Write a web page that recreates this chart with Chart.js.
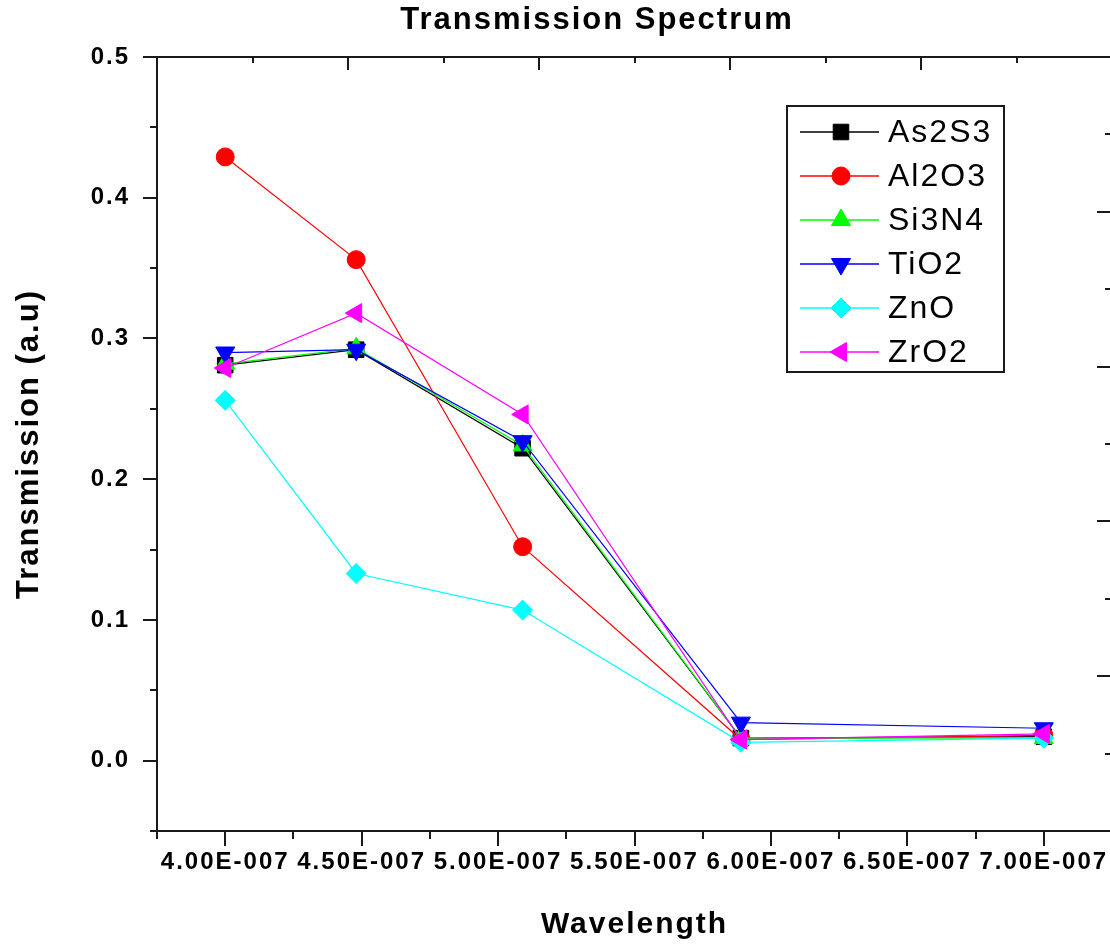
<!DOCTYPE html>
<html>
<head>
<meta charset="utf-8">
<title>Transmission Spectrum</title>
<script src="https://cdn.jsdelivr.net/npm/chart.js@4.4.1/dist/chart.umd.min.js"></script>
<style>
  html, body { margin: 0; padding: 0; background: #fff; overflow: hidden; }
  #spec { position: absolute; left: 0; top: 0; display: block; }
</style>
</head>
<body>
<canvas id="spec" width="1112" height="946"></canvas>
<script>
// wavelength (m) and transmission values
const wavelengths = [4.00e-7, 4.48e-7, 5.09e-7, 5.89e-7, 7.00e-7];
const as2s3 = [0.281, 0.292, 0.222, 0.016, 0.017];
const al2o3 = [0.429, 0.356, 0.152, 0.015, 0.018];
const si3n4 = [0.282, 0.293, 0.224, 0.016, 0.016];
const tio2  = [0.290, 0.292, 0.227, 0.027, 0.023];
const zno   = [0.256, 0.133, 0.107, 0.013, 0.016];
const zro2  = [0.279, 0.318, 0.246, 0.015, 0.019];

const seriesNames = ['As2S3', 'Al2O3', 'Si3N4', 'TiO2', 'ZnO', 'ZrO2'];
const seriesValues = [as2s3, al2o3, si3n4, tio2, zno, zro2];

const colors = ['#000000', '#ff0000', '#00ff00', '#0000ff', '#00ffff', '#ff00ff'];
const markers = ['rect', 'circle', 'triangle', 'triangle', 'rectRot', 'triangle'];
const markerRot = [0, 0, 0, 180, 0, 270];
const markerSize = [11, 9, 11, 11, 10, 11];

const FONT = '"Liberation Sans", Arial, sans-serif';
const AXIS = '#1a1a1a';

const datasets = seriesNames.map((name, i) => ({
  label: name,
  data: wavelengths.map((w, j) => ({ x: w, y: seriesValues[i][j] })),
  borderColor: colors[i],
  backgroundColor: colors[i],
  borderWidth: 1.2,
  pointStyle: markers[i],
  pointRotation: markerRot[i],
  pointRadius: markerSize[i],
  pointBackgroundColor: colors[i],
  pointBorderColor: colors[i],
  pointBorderWidth: 1,
  order: seriesNames.length - i   // later series on top, like the original
}));

// spaced lettering like the original export, plus the heading
const heading = {
  id: 'heading',
  beforeDraw(chart) { chart.ctx.letterSpacing = '2px'; },
  afterDraw(chart) {
    const ctx = chart.ctx;
    ctx.save();
    ctx.fillStyle = '#000';
    ctx.font = 'bold 31px ' + FONT;
    ctx.textAlign = 'center';
    ctx.textBaseline = 'middle';
    ctx.fillText('Transmission Spectrum', 597, 20);
    ctx.restore();
  }
};

// major/minor tick marks on all four sides
const tickMarks = {
  id: 'tickMarks',
  afterDraw(chart) {
    const ctx = chart.ctx;
    const { x, y, x2, y2 } = chart.scales;
    const area = chart.chartArea;
    ctx.save();
    ctx.strokeStyle = AXIS;
    ctx.lineWidth = 2;
    const seg = (a, b, c, d) => { ctx.beginPath(); ctx.moveTo(a, b); ctx.lineTo(c, d); ctx.stroke(); };

    for (let i = 0; i <= 11; i++) {
      const py = Math.round(y.getPixelForValue(y.min + i * 0.05));
      seg(area.left - (i % 2 === 1 ? 14 : 7), py, area.left, py);
    }
    for (let i = 0; i <= 14; i++) {
      const px = Math.round(x.getPixelForValue(x.min + i * 0.25e-7));
      seg(px, area.bottom, px, area.bottom + (i % 2 === 1 ? 15 : 8));
    }
    for (let i = 1; i <= 10; i++) {
      const px = Math.round(x2.getPixelForValue(i * 0.5));
      seg(px, area.top, px, area.top + (i % 2 === 0 ? 13 : 6));
    }
    for (let i = 1; i <= 9; i++) {
      const py = Math.round(y2.getPixelForValue(i * 0.5));
      seg(area.right, py, area.right - (i % 2 === 0 ? 15 : 7), py);
    }
    ctx.restore();
  }
};

// boxed legend in the upper right of the plot
const boxLegend = {
  id: 'boxLegend',
  afterDraw(chart) {
    const ctx = chart.ctx;
    const left = 787, top = 106, w = 217, h = 266;
    const rowTop = 131.5, rowH = 44;
    ctx.save();
    ctx.fillStyle = '#fff';
    ctx.fillRect(left, top, w, h);
    ctx.strokeStyle = AXIS;
    ctx.lineWidth = 2;
    ctx.strokeRect(left, top, w, h);
    chart.data.datasets.forEach((ds, i) => {
      const cy = Math.round(rowTop + i * rowH);
      ctx.strokeStyle = ds.borderColor;
      ctx.lineWidth = 1.5;
      ctx.beginPath();
      ctx.moveTo(800, cy);
      ctx.lineTo(879, cy);
      ctx.stroke();
      ctx.fillStyle = ds.pointBackgroundColor;
      ctx.lineWidth = 1;
      Chart.helpers.drawPoint(ctx, {
        pointStyle: ds.pointStyle, rotation: ds.pointRotation,
        radius: ds.pointRadius, borderWidth: 1
      }, 841, cy);
      ctx.fillStyle = '#000';
      ctx.font = '32px ' + FONT;
      ctx.textAlign = 'left';
      ctx.textBaseline = 'middle';
      ctx.fillText(ds.label, 888, cy + 1);
    });
    ctx.restore();
  }
};

const sci = v => (v * 1e7).toFixed(2) + 'E-007';

new Chart(document.getElementById('spec'), {
  type: 'line',
  data: { datasets },
  plugins: [heading, tickMarks, boxLegend],
  options: {
    responsive: false,
    animation: false,
    events: [],
    layout: { autoPadding: false, padding: { top: 57, left: 0, right: 0, bottom: 0 } },
    plugins: {
      legend: { display: false },
      tooltip: { enabled: false },
      title: { display: false }
    },
    scales: {
      x: {
        type: 'linear',
        position: 'bottom',
        min: 3.75e-7,
        max: 7.25e-7,
        afterFit: s => { s.height = 115; s.paddingLeft = 0; s.paddingRight = 0; },
        grid: { display: false, drawTicks: false },
        border: { display: true, color: AXIS, width: 2 },
        ticks: {
          stepSize: 0.25e-7,
          autoSkip: false,
          maxRotation: 0,
          padding: 0,
          color: '#000',
          font: { family: FONT, size: 24, weight: 'bold', lineHeight: 2.6 },
          callback: v => {
            const k = v * 2e7;
            if (Math.abs(k - Math.round(k)) > 1e-6 || v < 3.9e-7 || v > 7.1e-7) return '';
            return sci(v);
          }
        },
        title: {
          display: true,
          text: 'Wavelength',
          color: '#000',
          font: { family: FONT, size: 30, weight: 'bold' },
          padding: { top: 0, bottom: 3 }
        }
      },
      y: {
        type: 'linear',
        position: 'left',
        min: -0.05,
        max: 0.5,
        afterFit: s => { s.width = 157; },
        grid: { display: false, drawTicks: false },
        border: { display: true, color: AXIS, width: 2 },
        ticks: {
          stepSize: 0.1,
          padding: 27,
          color: '#000',
          font: { family: FONT, size: 24, weight: 'bold' },
          callback: v => {
            const k = v * 10;
            if (Math.abs(k - Math.round(k)) > 1e-6) return '';
            return v.toFixed(1);
          }
        },
        title: {
          display: true,
          text: 'Transmission (a.u)',
          color: '#000',
          font: { family: FONT, size: 31, weight: 'bold' },
          padding: { top: 11, bottom: 0 }
        }
      },
      x2: {
        type: 'linear',
        position: 'top',
        min: 0,
        max: 5,
        afterFit: s => { s.height = 0; },
        grid: { display: false, drawTicks: false },
        border: { display: true, color: AXIS, width: 2 },
        ticks: { display: false }
      },
      y2: {
        type: 'linear',
        position: 'right',
        min: 0,
        max: 5,
        afterFit: s => { s.width = 0; },
        grid: { display: false, drawTicks: false },
        border: { display: false },
        ticks: { display: false }
      }
    }
  }
});
</script>
</body>
</html>
